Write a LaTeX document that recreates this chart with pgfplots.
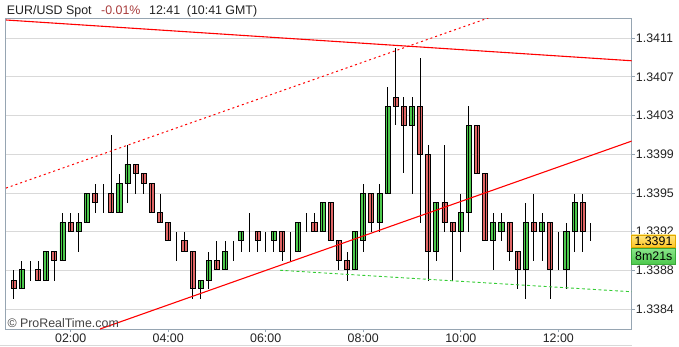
\documentclass[border=0pt]{standalone}
\usepackage{pgfplots}
\pgfplotsset{compat=1.18}
\usepackage{pgfplotstable}
\usepackage{fontspec}
\setmainfont{Liberation Sans}
\definecolor{cgreen}{HTML}{4DC94D}
\definecolor{cred}{HTML}{E06666}
\definecolor{framecol}{HTML}{96A5B2}
\definecolor{gridcol}{HTML}{D9D9D9}
\definecolor{pctred}{HTML}{A83C3C}
\definecolor{txt}{HTML}{222222}
\definecolor{trend}{HTML}{FF0000}
\definecolor{tgreen}{HTML}{33CC33}
\definecolor{ytop}{HTML}{FFE680}
\definecolor{ybot}{HTML}{FFC420}
\definecolor{yborder}{HTML}{E0A800}
\definecolor{gtop}{HTML}{8AE58A}
\definecolor{gbot}{HTML}{4CC94C}
\definecolor{gborder}{HTML}{3AA83A}
\newcommand{\fs}{\fontsize{12.4pt}{14pt}\selectfont}

% 10-minute candles, EUR/USD: time (minutes after 00:00), open, high, low, close
\pgfplotstableread{
t o h l c
50 1.33871 1.33882 1.33853 1.33863
60 1.33863 1.33891 1.33863 1.33882
70 1.33882 1.33891 1.33871 1.33882
80 1.33882 1.33891 1.33871 1.33871
90 1.33871 1.33900 1.33871 1.33900
100 1.33900 1.33900 1.33871 1.33891
110 1.33891 1.33939 1.33891 1.33929
120 1.33929 1.33939 1.33920 1.33920
130 1.33920 1.33939 1.33900 1.33929
140 1.33929 1.33958 1.33929 1.33958
150 1.33958 1.33968 1.33939 1.33949
160 1.33958 1.33968 1.33939 1.33958
170 1.33958 1.34016 1.33939 1.33939
180 1.33939 1.33978 1.33939 1.33968
190 1.33968 1.34006 1.33949 1.33987
200 1.33987 1.33987 1.33958 1.33978
210 1.33978 1.33978 1.33958 1.33968
220 1.33968 1.33968 1.33939 1.33939
230 1.33939 1.33958 1.33929 1.33929
240 1.33929 1.33929 1.33911 1.33911
250 1.33911 1.33920 1.33891 1.33911
260 1.33911 1.33920 1.33900 1.33900
270 1.33900 1.33900 1.33853 1.33863
280 1.33863 1.33871 1.33853 1.33871
290 1.33871 1.33900 1.33863 1.33891
300 1.33891 1.33911 1.33882 1.33882
310 1.33882 1.33911 1.33882 1.33900
320 1.33911 1.33911 1.33891 1.33911
330 1.33911 1.33920 1.33900 1.33920
340 1.33920 1.33939 1.33900 1.33920
350 1.33920 1.33920 1.33900 1.33911
360 1.33911 1.33920 1.33900 1.33911
370 1.33911 1.33920 1.33900 1.33920
380 1.33920 1.33920 1.33891 1.33900
390 1.33900 1.33920 1.33891 1.33900
400 1.33900 1.33929 1.33900 1.33929
410 1.33929 1.33939 1.33920 1.33929
420 1.33929 1.33939 1.33920 1.33920
430 1.33920 1.33949 1.33920 1.33949
440 1.33949 1.33949 1.33911 1.33911
450 1.33911 1.33911 1.33882 1.33891
460 1.33891 1.33900 1.33871 1.33882
470 1.33882 1.33920 1.33882 1.33920
480 1.33911 1.33968 1.33900 1.33958
490 1.33958 1.33958 1.33920 1.33929
500 1.33929 1.33968 1.33920 1.33958
510 1.33958 1.34064 1.33958 1.34045
520 1.34054 1.34103 1.34026 1.34045
530 1.34045 1.34054 1.33978 1.34026
540 1.34026 1.34054 1.33958 1.34045
550 1.34045 1.34093 1.33929 1.33997
560 1.33997 1.34006 1.33871 1.33900
570 1.33900 1.33949 1.33891 1.33949
580 1.33949 1.34006 1.33920 1.33929
590 1.33929 1.33929 1.33871 1.33920
600 1.33920 1.33958 1.33900 1.33939
610 1.33939 1.34045 1.33920 1.34026
620 1.34026 1.34026 1.33978 1.33978
630 1.33978 1.33978 1.33911 1.33911
640 1.33911 1.33939 1.33882 1.33929
650 1.33920 1.33939 1.33911 1.33929
660 1.33929 1.33929 1.33891 1.33900
670 1.33900 1.33900 1.33863 1.33882
680 1.33882 1.33949 1.33853 1.33929
690 1.33929 1.33958 1.33891 1.33920
700 1.33920 1.33939 1.33891 1.33929
710 1.33929 1.33929 1.33853 1.33882
720 1.33882 1.33920 1.33882 1.33882
730 1.33882 1.33929 1.33863 1.33920
740 1.33920 1.33958 1.33900 1.33949
750 1.33949 1.33958 1.33900 1.33920
760 1.33911 1.33929 1.33911 1.33911
}\candles

\begin{document}
\begin{tikzpicture}[x=1pt,y=1pt]
\useasboundingbox (0,0) rectangle (679,347);
\pgfplotsset{base/.style={scale only axis, width=626pt, height=311pt,
  at={(5.7pt,17.7pt)}, anchor=south west,
  xmin=40.1, xmax=810.3, ymin=2.28, ymax=33.26}}
% y axis in pips above 1.3380
\begin{axis}[base, ybar stacked, bar width=5.1pt,
  axis line style={framecol, line width=0.9pt},
  ymajorgrids, grid style={gridcol, line width=0.8pt},
  xtick={120,240,360,480,600,720},
  xticklabels={02:00,04:00,06:00,08:00,10:00,12:00},
  ytick={4.286,8.143,12,15.857,19.714,23.571,27.429,31.286},
  yticklabels={1.3384,1.3388,1.3392,1.3395,1.3399,1.3403,1.3407,1.3411},
  xtick pos=left, ytick pos=right, yticklabel pos=right,
  tick align=outside, major tick length=3pt,
  tick style={framecol, line width=0.8pt},
  ticklabel style={font=\fs, text=txt, inner sep=0pt},
  xticklabel style={anchor=north, yshift=-1pt},
  yticklabel style={anchor=west, xshift=1pt},
]
\addplot[draw=none, fill=none,
  error bars/.cd, y dir=both, y explicit, error mark=none,
  error bar style={draw=black, line width=0.9pt, solid}]
  table[x=t, y expr={(min(\thisrow{o},\thisrow{c})-1.338)*10000},
    y error plus expr={(\thisrow{h}-min(\thisrow{o},\thisrow{c}))*10000},
    y error minus expr={(min(\thisrow{o},\thisrow{c})-\thisrow{l})*10000}] {\candles};
\addplot[fill=cgreen, draw=black, line width=0.9pt]
  table[x=t, y expr={max(\thisrow{c}-\thisrow{o},0)*10000}] {\candles};
\addplot[fill=cred, draw=black, line width=0.9pt]
  table[x=t, y expr={max(\thisrow{o}-\thisrow{c},0)*10000}] {\candles};
\end{axis}
\begin{axis}[base, hide axis]
\addplot[trend, line width=1.1pt] table[x=t, y expr={(\thisrow{p}-1.338)*10000}] {
t p
40.53 1.341309
810.3 1.340903
};
\addplot[trend, line width=1pt, dash pattern=on 2pt off 3pt] table[x=t, y expr={(\thisrow{p}-1.338)*10000}] {
t p
40.53 1.339635
633.9 1.341329
};
\addplot[trend, line width=1.1pt] table[x=t, y expr={(\thisrow{p}-1.338)*10000}] {
t p
156.2 1.338231
810.3 1.340103
};
\addplot[tgreen, line width=0.9pt, dash pattern=on 3pt off 2.5pt] table[x=t, y expr={(\thisrow{p}-1.338)*10000}] {
t p
377.6 1.338816
810.3 1.338602
};
\end{axis}
% title
\node[anchor=base west, inner sep=0, font=\fs, text=txt] at (6.7,332.7) {EUR/USD Spot};
\node[anchor=base west, inner sep=0, font=\fs, text=pctred] at (101,332.7) {-0.01\%};
\node[anchor=base west, inner sep=0, font=\fs, text=txt] at (149,332.7) {12:41};
\node[anchor=base west, inner sep=0, font=\fs, text=txt] at (186.7,332.7) {(10:41 GMT)};
% watermark
\node[anchor=base west, inner sep=0, font=\fs, text=txt!85] at (7.3,19.8) {© ProRealTime.com};
% current price and timer
\path[draw=yborder, line width=0.8pt, top color=ytop, bottom color=ybot] (631.7,99.7) rectangle (675.5,112);
\node[anchor=west, inner sep=0, font=\fs, text=black] at (634.3,105.8) {1.3391};
\path[draw=gborder, line width=0.8pt, top color=gtop, bottom color=gbot] (631.7,83) rectangle (675.5,98.4);
\node[anchor=west, inner sep=0, font=\fs, text=black] at (635,90.7) {8m21s};
\draw[gridcol, line width=0.8pt] (0,1.5) -- (632,1.5);
\end{tikzpicture}
\end{document}
